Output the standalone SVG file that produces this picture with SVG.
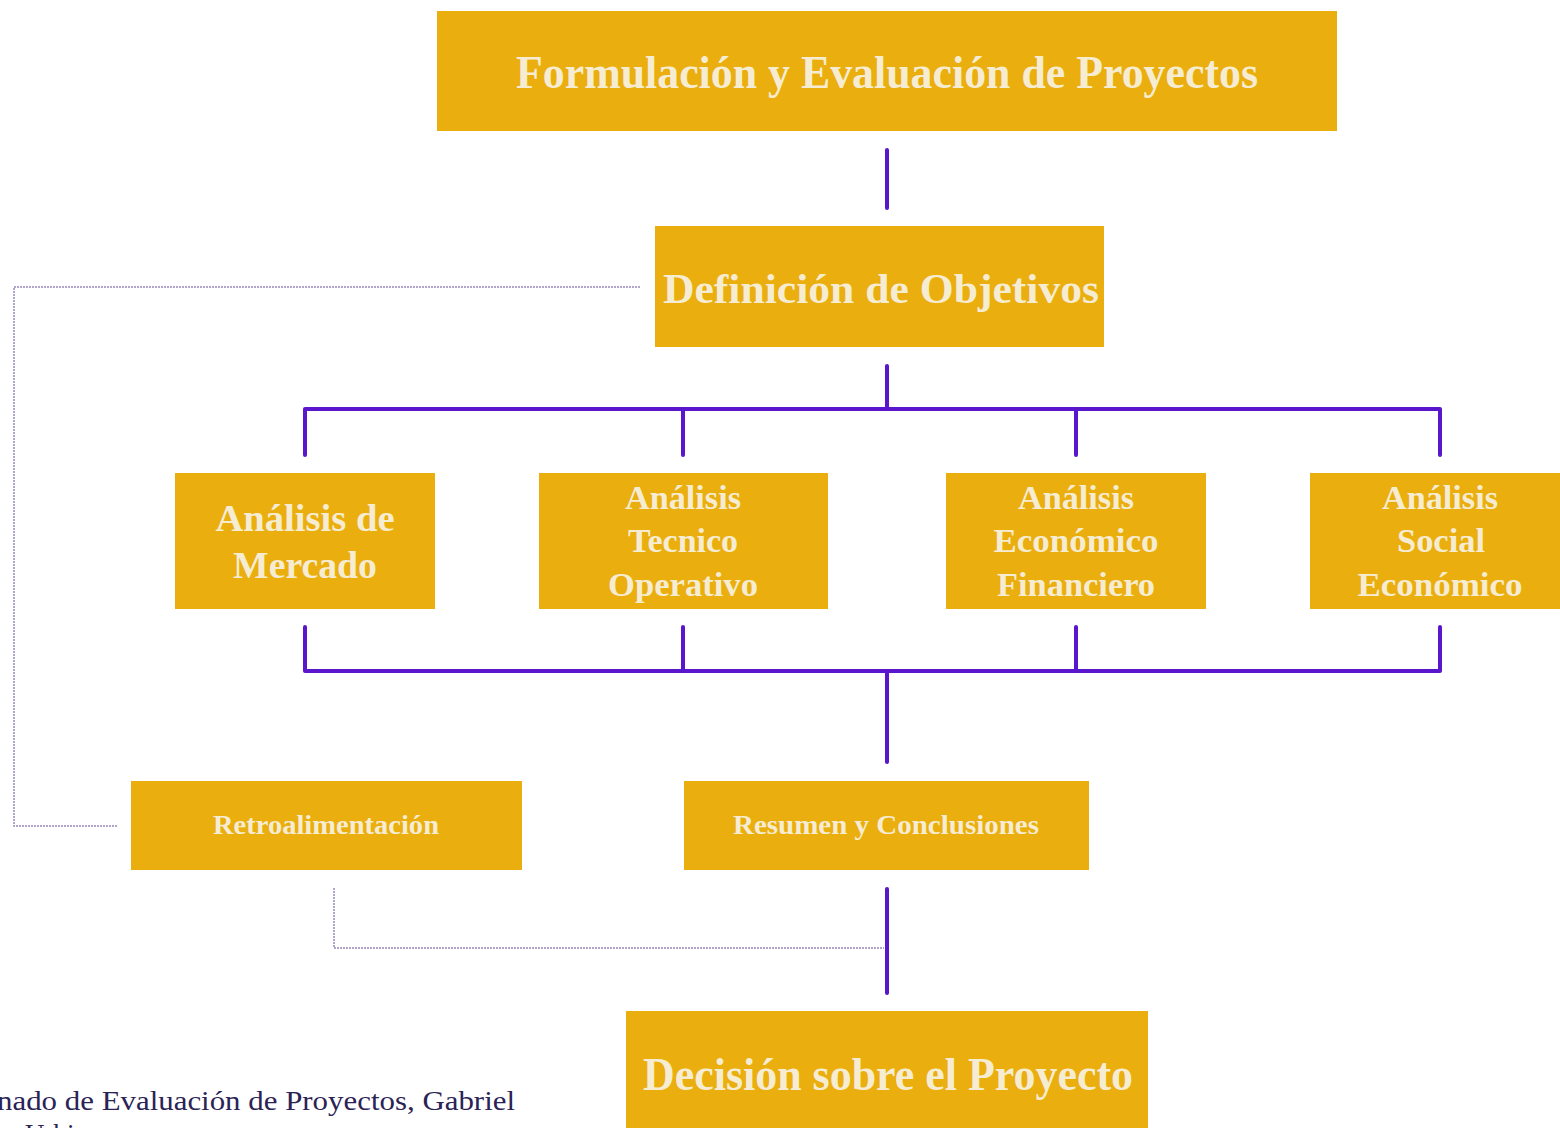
<svg xmlns="http://www.w3.org/2000/svg" width="1560" height="1128" viewBox="0 0 1560 1128">
<style>
.box{fill:#eaae0e}
.t{font-weight:bold;fill:#f6ecd2;text-anchor:middle}
.bus{stroke:#5a16cc;stroke-width:4;fill:none;stroke-linecap:round;stroke-linejoin:round}
.fb{stroke:#9888bc;stroke-width:1.5;fill:none;stroke-dasharray:2 1}
.src{fill:#2b2356;font-size:27px}
</style>
<rect width="1560" height="1128" fill="#ffffff"/>
<g id="connectors">
<line class="bus" x1="887" y1="150" x2="887" y2="208"/>
<line class="bus" x1="887" y1="366" x2="887" y2="409"/>
<path class="bus" d="M305 455 V409 H1440 V455"/>
<line class="bus" x1="683" y1="409" x2="683" y2="455"/>
<line class="bus" x1="1076" y1="409" x2="1076" y2="455"/>
<path class="bus" d="M305 627 V671 H1440 V627"/>
<line class="bus" x1="683" y1="627" x2="683" y2="671"/>
<line class="bus" x1="1076" y1="627" x2="1076" y2="671"/>
<line class="bus" x1="887" y1="671" x2="887" y2="762"/>
<line class="bus" x1="887" y1="889" x2="887" y2="993"/>
<path class="fb" d="M640 287 H14 V826 H117"/>
<path class="fb" d="M334 888 V948 H884"/>
</g>
<g font-family="Liberation Serif, Times New Roman, serif">
<g id="n-formulacion">
<rect class="box" x="437" y="11" width="900" height="120"/>
<text class="t" x="887" y="88" font-size="46" textLength="742" lengthAdjust="spacingAndGlyphs">Formulación y Evaluación de Proyectos</text>
</g>
<g id="n-definicion">
<rect class="box" x="655" y="226" width="449" height="121"/>
<text class="t" x="881" y="303" font-size="43" textLength="436" lengthAdjust="spacingAndGlyphs">Definición de Objetivos</text>
</g>
<g id="n-mercado">
<rect class="box" x="175" y="473" width="260" height="136"/>
<text class="t" x="305" y="531" font-size="38" textLength="179" lengthAdjust="spacingAndGlyphs">Análisis de</text>
<text class="t" x="305" y="578" font-size="38" textLength="144" lengthAdjust="spacingAndGlyphs">Mercado</text>
</g>
<g id="n-tecnico">
<rect class="box" x="539" y="473" width="289" height="136"/>
<text class="t" x="683" y="509" font-size="33" textLength="116" lengthAdjust="spacingAndGlyphs">Análisis</text>
<text class="t" x="683" y="552" font-size="33" textLength="110" lengthAdjust="spacingAndGlyphs">Tecnico</text>
<text class="t" x="683" y="596" font-size="33" textLength="150" lengthAdjust="spacingAndGlyphs">Operativo</text>
</g>
<g id="n-economico">
<rect class="box" x="946" y="473" width="260" height="136"/>
<text class="t" x="1076" y="509" font-size="33" textLength="116" lengthAdjust="spacingAndGlyphs">Análisis</text>
<text class="t" x="1076" y="552" font-size="33" textLength="165" lengthAdjust="spacingAndGlyphs">Económico</text>
<text class="t" x="1076" y="596" font-size="33" textLength="158" lengthAdjust="spacingAndGlyphs">Financiero</text>
</g>
<g id="n-social">
<rect class="box" x="1310" y="473" width="250" height="136"/>
<text class="t" x="1440" y="509" font-size="33" textLength="116" lengthAdjust="spacingAndGlyphs">Análisis</text>
<text class="t" x="1441" y="552" font-size="33" textLength="88" lengthAdjust="spacingAndGlyphs">Social</text>
<text class="t" x="1440" y="596" font-size="33" textLength="165" lengthAdjust="spacingAndGlyphs">Económico</text>
</g>
<g id="n-retro">
<rect class="box" x="131" y="781" width="391" height="89"/>
<text class="t" x="326" y="834" font-size="28" textLength="226" lengthAdjust="spacingAndGlyphs">Retroalimentación</text>
</g>
<g id="n-resumen">
<rect class="box" x="684" y="781" width="405" height="89"/>
<text class="t" x="886" y="834" font-size="28" textLength="306" lengthAdjust="spacingAndGlyphs">Resumen y Conclusiones</text>
</g>
<g id="n-decision">
<rect class="box" x="626" y="1011" width="522" height="125"/>
<text class="t" x="888" y="1090" font-size="47" textLength="490" lengthAdjust="spacingAndGlyphs">Decisión sobre el Proyecto</text>
</g>
<g id="source">
<text class="src" x="-3" y="1110" textLength="518" lengthAdjust="spacingAndGlyphs">nado de Evaluación de Proyectos, Gabriel</text>
<text class="src" x="25" y="1143">Urbina</text>
</g>
</g>
</svg>
